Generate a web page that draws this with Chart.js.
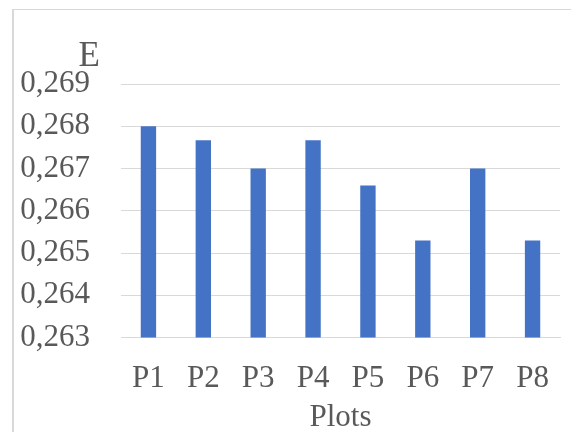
<!DOCTYPE html>
<html>
<head>
<meta charset="utf-8">
<script src="https://cdn.jsdelivr.net/npm/chart.js@4/dist/chart.umd.min.js"></script>
<style>
  html, body { margin: 0; padding: 0; background: #fff; }
  #wrap { position: relative; width: 577px; height: 432px; }
  #frame { position: absolute; left: 12px; top: 9px; right: 6px; bottom: -2px;
           border-top: 1px solid #d9d9d9; border-left: 2px solid #d9d9d9; }
  canvas { position: absolute; left: 0; top: 0; }
</style>
</head>
<body>
<div id="wrap">
  <div id="frame"></div>
  <canvas id="chart" width="577" height="432"></canvas>
</div>
<script>
const categories = ['P1', 'P2', 'P3', 'P4', 'P5', 'P6', 'P7', 'P8'];
const values = [0.268, 0.26767, 0.267, 0.26767, 0.2666, 0.2653, 0.267, 0.2653];
const yTicks = [0.263, 0.264, 0.265, 0.266, 0.267, 0.268, 0.269];

const textColor = '#595959';
const fontFamily = "'Liberation Serif', 'Times New Roman', serif";

// draws the "E" label above the value axis
const yLabelPlugin = {
    id: 'yLabel',
    afterDraw(chart) {
        const ctx = chart.ctx;
        ctx.save();
        ctx.fillStyle = textColor;
        ctx.font = '35px ' + fontFamily;
        ctx.textAlign = 'right';
        ctx.textBaseline = 'alphabetic';
        ctx.fillText('E', 100, 66);
        ctx.restore();
    }
};

new Chart(document.getElementById('chart').getContext('2d'), {
    type: 'bar',
    data: {
        labels: categories,
        datasets: [{
            data: values,
            backgroundColor: '#4472C4',
            barPercentage: 0.28,
            categoryPercentage: 1
        }]
    },
    options: {
        responsive: false,
        animation: false,
        layout: { padding: { left: 14, right: 17, top: 84, bottom: -4 } },
        plugins: {
            legend: { display: false },
            tooltip: { enabled: false }
        },
        scales: {
            x: {
                grid: { display: false },
                border: { color: '#d9d9d9' },
                ticks: { color: textColor, font: { family: fontFamily, size: 31 }, padding: 15 },
                title: {
                    display: true,
                    text: 'Plots',
                    color: textColor,
                    font: { family: fontFamily, size: 31 },
                    padding: { top: -14, bottom: 0 }
                }
            },
            y: {
                min: 0.263,
                max: 0.269,
                afterBuildTicks(scale) {
                    scale.ticks = yTicks.map(v => ({ value: v }));
                },
                afterFit(scale) {
                    scale.width = 121 - 14;
                },
                grid: { color: '#d9d9d9', drawTicks: false },
                border: { display: false },
                ticks: {
                    color: textColor,
                    padding: 31,
                    font: { family: fontFamily, size: 31 },
                    callback: v => v.toFixed(3).replace('.', ',')
                }
            }
        }
    },
    plugins: [yLabelPlugin]
});
</script>
</body>
</html>
